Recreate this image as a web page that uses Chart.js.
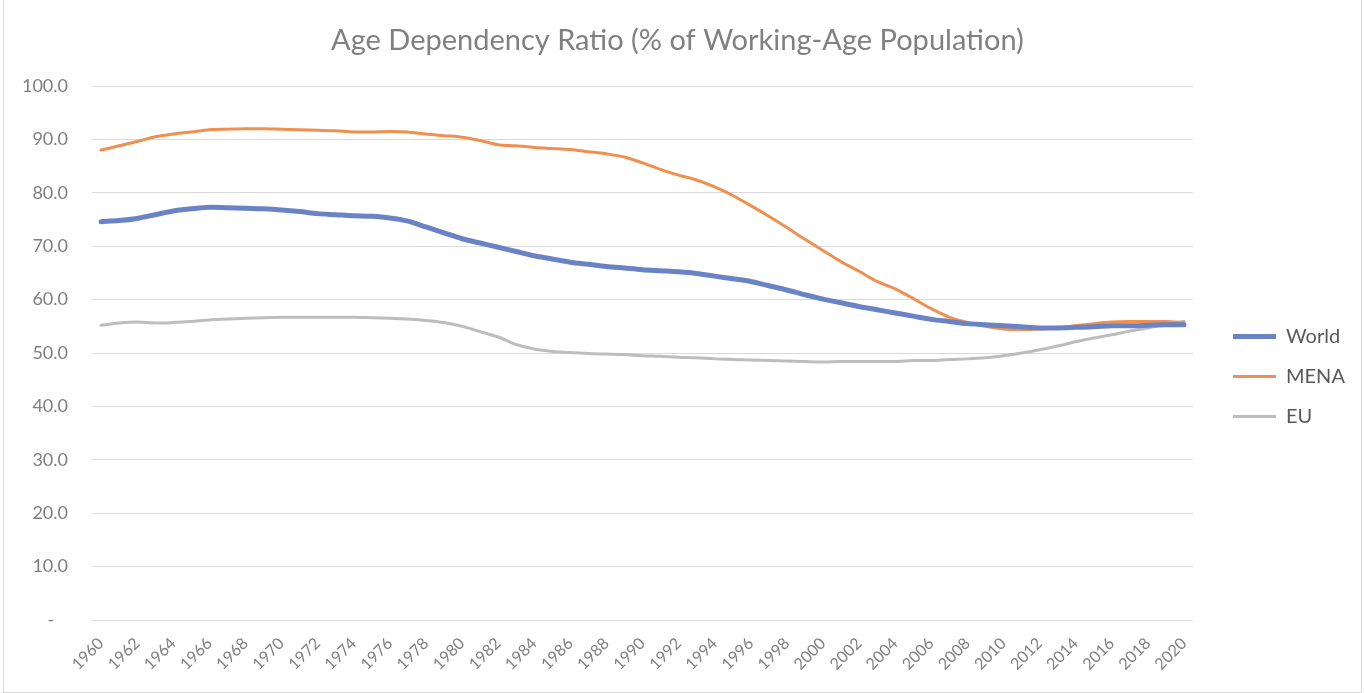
<!DOCTYPE html>
<html>
<head>
<meta charset="utf-8">
<script src="https://cdn.jsdelivr.net/npm/chart.js@4/dist/chart.umd.min.js"></script>
<style>
  html, body { margin: 0; padding: 0; background: #fff; }
  #wrap { position: relative; width: 1364px; height: 693px; }
  #frame { position: absolute; left: 3px; top: 0; width: 1357px; height: 692px; border: 1px solid #d9d9d9; border-top: none; pointer-events: none; }
</style>
</head>
<body>
<div id="wrap">
  <canvas id="ageChart" width="1364" height="693"></canvas>
  <div id="frame"></div>
</div>
<script>
const years = ['1960','1961','1962','1963','1964','1965','1966','1967','1968','1969',
  '1970','1971','1972','1973','1974','1975','1976','1977','1978','1979',
  '1980','1981','1982','1983','1984','1985','1986','1987','1988','1989',
  '1990','1991','1992','1993','1994','1995','1996','1997','1998','1999',
  '2000','2001','2002','2003','2004','2005','2006','2007','2008','2009',
  '2010','2011','2012','2013','2014','2015','2016','2017','2018','2019','2020'];

const world = [74.6, 74.8, 75.2, 75.9, 76.6, 77.0, 77.3, 77.2, 77.1, 77.0,
  76.8, 76.5, 76.1, 75.9, 75.7, 75.6, 75.3, 74.7, 73.6, 72.5,
  71.4, 70.6, 69.8, 69.0, 68.2, 67.6, 67.0, 66.6, 66.2, 65.9,
  65.6, 65.4, 65.2, 64.9, 64.4, 63.9, 63.4, 62.6, 61.8, 60.9,
  60.1, 59.4, 58.7, 58.1, 57.5, 56.9, 56.3, 55.9, 55.5, 55.3,
  55.1, 54.9, 54.7, 54.7, 54.8, 54.9, 55.1, 55.1, 55.2, 55.3, 55.3];

const mena = [88.0, 88.8, 89.6, 90.5, 91.0, 91.4, 91.8, 91.9, 92.0, 92.0,
  91.9, 91.8, 91.7, 91.6, 91.4, 91.4, 91.5, 91.4, 91.0, 90.7,
  90.4, 89.8, 89.0, 88.8, 88.5, 88.3, 88.1, 87.7, 87.3, 86.7,
  85.6, 84.4, 83.3, 82.4, 81.1, 79.5, 77.6, 75.6, 73.5, 71.3,
  69.2, 67.1, 65.3, 63.4, 62.0, 60.2, 58.3, 56.7, 55.7, 55.0,
  54.5, 54.4, 54.5, 54.7, 55.1, 55.5, 55.8, 55.9, 55.9, 55.9, 55.7];

const eu = [55.2, 55.6, 55.8, 55.6, 55.7, 55.9, 56.2, 56.35, 56.5, 56.6,
  56.7, 56.7, 56.7, 56.7, 56.7, 56.6, 56.5, 56.35, 56.1, 55.7,
  55.0, 54.0, 53.0, 51.6, 50.75, 50.3, 50.1, 49.9, 49.8, 49.7,
  49.5, 49.4, 49.2, 49.1, 48.9, 48.8, 48.7, 48.6, 48.5, 48.4,
  48.3, 48.4, 48.4, 48.4, 48.4, 48.6, 48.6, 48.8, 48.9, 49.1,
  49.5, 50.0, 50.6, 51.3, 52.1, 52.8, 53.4, 54.1, 54.7, 55.4, 55.9];

const seriesNames = ['World', 'MENA', 'EU'];

const fontFamily = 'Lato, "Open Sans", sans-serif';
const legendFontSize = 20;
const legendPad = 20;
const legendLine = 43;

// width the legend will take, so the plot can end where the reference does
const mctx = document.createElement('canvas').getContext('2d');
mctx.font = legendFontSize + 'px ' + fontFamily;
const maxText = Math.max(...seriesNames.map(n => mctx.measureText(n).width));
const legendW = legendPad + legendLine + legendFontSize / 2 + maxText + 10;
const gapW = 20;
const padRight = Math.max(0, 1364 - 1193 - gapW - legendW);

const ctx = document.getElementById('ageChart').getContext('2d');
new Chart(ctx, {
  type: 'line',
  data: {
    labels: years,
    datasets: [
      { label: seriesNames[0], data: world, borderColor: '#6a83c5', backgroundColor: '#6a83c5', borderWidth: 5, yAxisID: 'y' },
      { label: seriesNames[1], data: mena, borderColor: '#f0904f', backgroundColor: '#f0904f', borderWidth: 3, yAxisID: 'y' },
      { label: seriesNames[2], data: eu, borderColor: '#bdbdbd', backgroundColor: '#bdbdbd', borderWidth: 3, yAxisID: 'y' }
    ]
  },
  options: {
    responsive: false,
    animation: false,
    devicePixelRatio: 1,
    layout: { padding: { left: 0, right: padRight, top: 0, bottom: 0 } },
    elements: {
      point: { radius: 0, hoverRadius: 0 },
      line: { tension: 0.3, borderCapStyle: 'round', borderJoinStyle: 'round', fill: false }
    },
    plugins: {
      title: {
        display: true,
        text: 'Age Dependency Ratio (% of Working-Age Population)',
        color: '#808080',
        font: { family: fontFamily, size: 29, weight: 'normal' },
        padding: { top: 23.6, bottom: 27.6 }
      },
      legend: {
        position: 'right',
        align: 'start',
        title: { display: true, text: ' ', font: { size: 12 }, padding: { top: 292, bottom: 0 } },
        labels: {
          usePointStyle: true,
          pointStyle: 'line',
          pointStyleWidth: legendLine,
          padding: legendPad,
          color: '#595959',
          font: { family: fontFamily, size: legendFontSize }
        }
      },
      tooltip: { enabled: false }
    },
    scales: {
      x: {
        type: 'category',
        offset: true,
        grid: { display: false },
        border: { display: false },
        ticks: {
          autoSkip: false,
          minRotation: 45,
          maxRotation: 45,
          padding: 6,
          color: '#7f7f7f',
          font: { family: fontFamily, size: 16 },
          callback: function (val, idx) { return idx % 2 === 0 ? years[idx] : null; }
        },
        afterFit: s => { s.height = 73; }
      },
      y: {
        min: 0,
        max: 100,
        grid: { color: '#d9d9d9', lineWidth: 1, drawTicks: false },
        border: { display: false },
        ticks: {
          stepSize: 10,
          padding: 24,
          color: '#7f7f7f',
          font: { family: fontFamily, size: 18 },
          callback: v => v === 0 ? '-   ' : v.toFixed(1)
        },
        afterFit: s => { s.width = 92; }
      },
      gap: {
        type: 'linear',
        position: 'right',
        display: true,
        grid: { display: false },
        border: { display: false },
        ticks: { display: false },
        afterFit: s => { s.width = gapW; }
      }
    }
  }
});
</script>
</body>
</html>
